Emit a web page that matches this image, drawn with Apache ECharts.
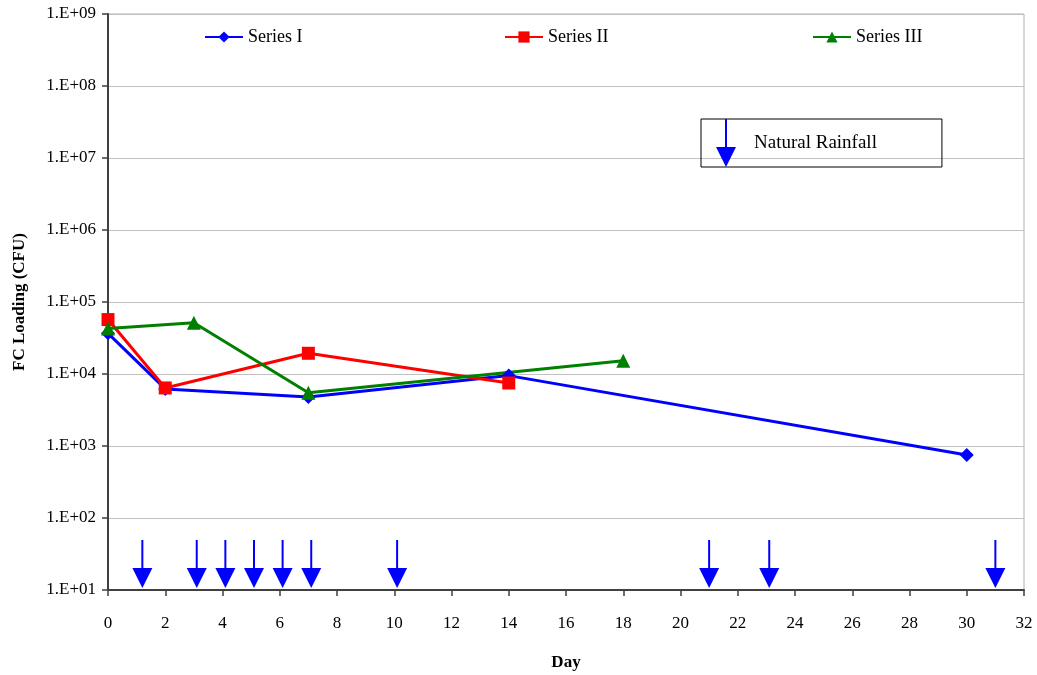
<!DOCTYPE html>
<html>
<head>
<meta charset="utf-8">
<script src="https://cdn.jsdelivr.net/npm/echarts@6/dist/echarts.min.js"></script>
<style>html,body{margin:0;padding:0;background:#fff}#c{width:1037px;height:675px}</style>
</head>
<body>
<div id="c"></div>
<script>
// ---- data ----
const seriesIDays = [0, 2, 7, 14, 30];
const seriesIValues = [36700, 6200, 4800, 9500, 750];
const seriesIIDays = [0, 2, 7, 14];
const seriesIIValues = [57000, 6400, 19400, 7500];
const seriesIIIDays = [0, 3, 7, 18];
const seriesIIIValues = [43000, 51500, 5500, 15300];
const rainfallDays = [1.2, 3.1, 4.1, 5.1, 6.1, 7.1, 10.1, 21, 23.1, 31];
const seriesNames = ['Series I', 'Series II', 'Series III'];
const rainfallName = 'Natural Rainfall';
const xTicks = { min: 0, max: 32, interval: 2 };
const yRange = { min: 10, max: 1e9 };
const xTitle = 'Day';
const yTitle = 'FC Loading (CFU)';

const zip = (a, b) => a.map((d, i) => [d, b[i]]);
const FONT = '"Liberation Serif", "Times New Roman", serif';
const arrowPath = 'path://M9,0 L11,0 L11,28 L20,28 L10,48 L0,28 L9,28 Z';

const chart = echarts.init(document.getElementById('c'), null, { renderer: 'canvas' });

function lineSeries(name, data, color, symbol, size) {
  return {
    name, type: 'line', data, symbol, symbolSize: size,
    lineStyle: { color, width: 3 },
    itemStyle: { color },
    showSymbol: true, animation: false, z: 3
  };
}

const legendCommon = {
  top: 23, itemWidth: 38, itemHeight: 14,
  textStyle: { fontFamily: FONT, fontSize: 18, color: '#000' },
  selectedMode: false
};

chart.setOption({
  animation: false,
  textStyle: { fontFamily: FONT },
  grid: { left: 108, right: 13, top: 14, bottom: 85, show: true, borderColor: '#b0b0b0', borderWidth: 1, outerBoundsMode: 'none', containLabel: false },
  legend: [
    Object.assign({}, legendCommon, { left: 199, data: [seriesNames[0]] }),
    Object.assign({}, legendCommon, { left: 499, data: [seriesNames[1]] }),
    Object.assign({}, legendCommon, { left: 807, data: [seriesNames[2]] }),
    {
      left: 701, top: 119, data: [{ name: rainfallName, icon: arrowPath }],
      itemWidth: 20, itemHeight: 48, selectedMode: false,
      borderColor: '#000', borderWidth: 1, padding: [0, 65, 0, 15],
      itemStyle: { color: '#0000ff' },
      textStyle: { fontFamily: FONT, fontSize: 19, color: '#000', padding: [0, 0, 0, 13] }
    }
  ],
  xAxis: {
    type: 'value', min: xTicks.min, max: xTicks.max, interval: xTicks.interval,
    name: xTitle, nameLocation: 'middle', nameGap: 64,
    nameTextStyle: { fontFamily: FONT, fontSize: 17, fontWeight: 'bold', color: '#000' },
    axisLine: { show: true, lineStyle: { color: '#404040', width: 2 } },
    axisTick: { show: true, inside: false, length: 6, lineStyle: { color: '#404040', width: 1.5 } },
    axisLabel: { fontFamily: FONT, fontSize: 17, color: '#000', margin: 25 },
    splitLine: { show: false }
  },
  yAxis: {
    type: 'log', logBase: 10, min: yRange.min, max: yRange.max,
    name: yTitle, nameLocation: 'middle', nameGap: 80, nameRotate: 90,
    nameTextStyle: { fontFamily: FONT, fontSize: 17, fontWeight: 'bold', color: '#000' },
    axisLine: { show: true, lineStyle: { color: '#404040', width: 2 } },
    axisTick: { show: true, inside: false, length: 6, lineStyle: { color: '#404040', width: 1.5 } },
    axisLabel: {
      fontFamily: FONT, fontSize: 17, color: '#000', margin: 12, padding: [5, 0, 0, 0],
      formatter: v => { const e = Math.round(Math.log10(v)); return '1.E+' + (e < 10 ? '0' + e : e); }
    },
    splitLine: { show: true, lineStyle: { color: '#c0c0c0', width: 1 } },
    minorTick: { show: false }
  },
  series: [
    lineSeries(seriesNames[0], zip(seriesIDays, seriesIValues), '#0000ff', 'diamond', 14),
    lineSeries(seriesNames[1], zip(seriesIIDays, seriesIIValues), '#ff0000', 'rect', 13),
    lineSeries(seriesNames[2], zip(seriesIIIDays, seriesIIIValues), '#008000', 'triangle', 14),
    {
      name: rainfallName, type: 'custom', itemStyle: { color: '#0000ff' },
      data: rainfallDays.map(d => [d]),
      renderItem: function (params, api) {
        const p = api.coord([api.value(0), yRange.min]);
        const x = p[0], tip = p[1] - 2;
        const headH = 20, total = 48, halfW = 10;
        return {
          type: 'group',
          children: [
            { type: 'rect', shape: { x: x - 1, y: tip - total, width: 2, height: total - headH + 1 }, style: { fill: '#0000ff' } },
            { type: 'polygon', shape: { points: [[x - halfW, tip - headH], [x + halfW, tip - headH], [x, tip]] }, style: { fill: '#0000ff' } }
          ]
        };
      },
      z: 2
    }
  ]
});
</script>
</body>
</html>
